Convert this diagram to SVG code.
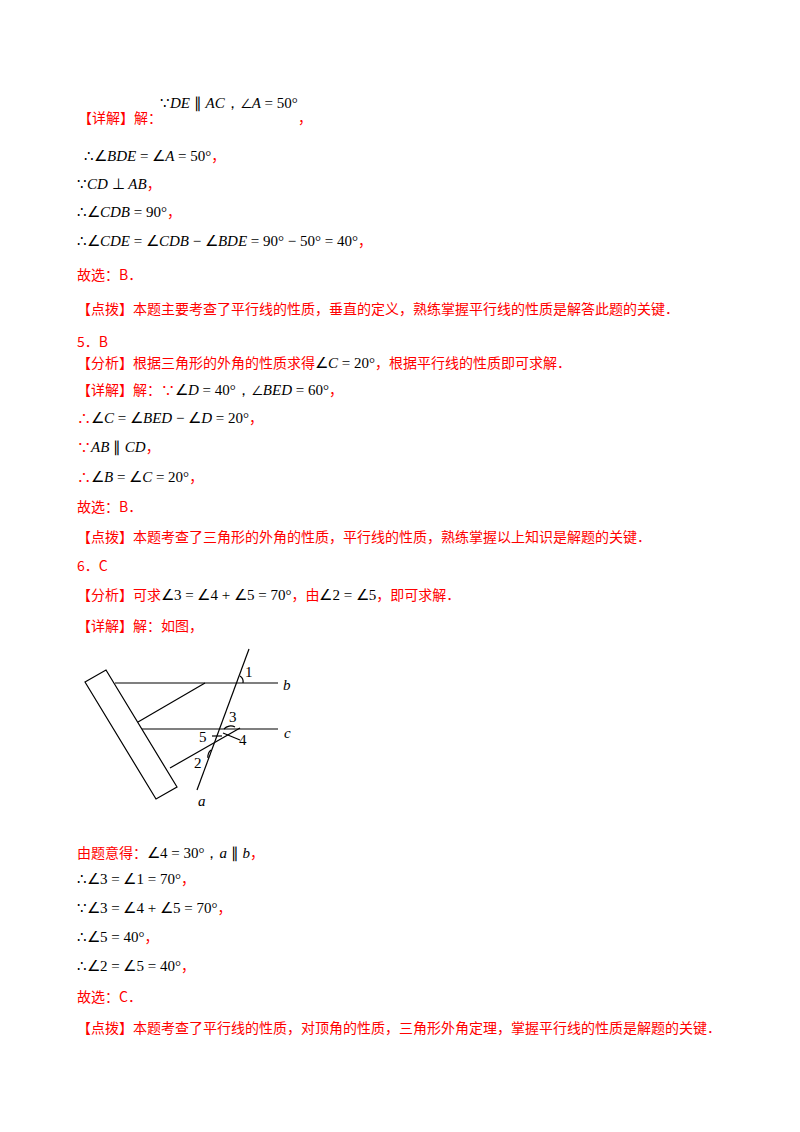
<svg xmlns="http://www.w3.org/2000/svg" width="800" height="1132" viewBox="0 0 800 1132">
<style>
.r{font-family:"Noto Sans CJK SC","Noto Sans",sans-serif;font-size:14px;fill:#ff0000}
.m{font-family:"Liberation Serif",serif;font-size:15px;fill:#000}
.i{font-style:italic}
.f{font-family:"Liberation Serif",serif;font-size:15px;fill:#000}
.ln{stroke:#000;stroke-width:1.2;fill:none}
</style>
<rect width="800" height="1132" fill="#fff"/>
<text class="m" x="160" y="108">∵<tspan class="i">DE</tspan> ∥ <tspan class="i">AC</tspan>，∠<tspan class="i">A</tspan> = 50°</text>
<text class="r" x="78" y="123">【详解】解：</text>
<text class="r" x="298" y="123">，</text>
<text class="m" x="84" y="161">∴∠<tspan class="i">BDE</tspan> = ∠<tspan class="i">A</tspan> = 50°<tspan class="r">，</tspan></text>
<text class="m" x="77" y="189">∵<tspan class="i">CD</tspan> ⊥ <tspan class="i">AB</tspan><tspan class="r">，</tspan></text>
<text class="m" x="77" y="217">∴∠<tspan class="i">CDB</tspan> = 90°<tspan class="r">，</tspan></text>
<text class="m" x="77" y="246">∴∠<tspan class="i">CDE</tspan> = ∠<tspan class="i">CDB</tspan> − ∠<tspan class="i">BDE</tspan> = 90° − 50° = 40°<tspan class="r">，</tspan></text>
<text class="r" x="77" y="280">故选：B．</text>
<text class="r" x="77" y="314">【点拨】本题主要考查了平行线的性质，垂直的定义，熟练掌握平行线的性质是解答此题的关键．</text>
<text class="r" x="77" y="347">5．B</text>
<text class="r" x="77" y="368">【分析】根据三角形的外角的性质求得<tspan class="m">∠<tspan class="i">C</tspan> = 20°</tspan>，根据平行线的性质即可求解．</text>
<text class="r" x="77" y="395">【详解】解：∵<tspan class="m">∠<tspan class="i">D</tspan> = 40°，∠<tspan class="i">BED</tspan> = 60°</tspan>，</text>
<text class="r" x="77" y="423">∴<tspan class="m">∠<tspan class="i">C</tspan> = ∠<tspan class="i">BED</tspan> − ∠<tspan class="i">D</tspan> = 20°</tspan>，</text>
<text class="r" x="77" y="452">∵<tspan class="m"><tspan class="i">AB</tspan> ∥ <tspan class="i">CD</tspan></tspan>，</text>
<text class="r" x="77" y="482">∴<tspan class="m">∠<tspan class="i">B</tspan> = ∠<tspan class="i">C</tspan> = 20°</tspan>，</text>
<text class="r" x="77" y="512">故选：B．</text>
<text class="r" x="77" y="542">【点拨】本题考查了三角形的外角的性质，平行线的性质，熟练掌握以上知识是解题的关键．</text>
<text class="r" x="77" y="571">6．C</text>
<text class="r" x="77" y="600">【分析】可求<tspan class="m">∠3 = ∠4 + ∠5 = 70°</tspan>，由<tspan class="m">∠2 = ∠5</tspan>，即可求解．</text>
<text class="r" x="77" y="631">【详解】解：如图，</text>
<g id="figure">
<polygon class="ln" points="85,682 106,670 177,787 156,799"/>
<line class="ln" x1="115" y1="683" x2="278" y2="683"/>
<line class="ln" x1="205" y1="683" x2="138" y2="722"/>
<line class="ln" x1="142" y1="729" x2="278" y2="729"/>
<line class="ln" x1="249" y1="649" x2="197" y2="790"/>
<line class="ln" x1="170" y1="768" x2="240" y2="728"/>
<line class="ln" x1="223" y1="733" x2="240" y2="740"/>
<line class="ln" x1="212" y1="736" x2="222" y2="736"/>
<path class="ln" d="M243,683 A7,7 0 0 0 240,676"/>
<path class="ln" d="M224,729 A9,9 0 0 1 235,727"/>
<path class="ln" d="M208,758 A9,9 0 0 1 211,750"/>
<text class="f" x="245" y="677">1</text>
<text class="f" x="229" y="722">3</text>
<text class="f" x="199" y="742">5</text>
<text class="f" x="239" y="745">4</text>
<text class="f" x="194" y="768">2</text>
<text class="f i" x="283" y="690">b</text>
<text class="f i" x="284" y="738">c</text>
<text class="f i" x="198" y="806">a</text>
</g>
<text class="r" x="77" y="858">由题意得：<tspan class="m">∠4 = 30°，<tspan class="i">a</tspan> ∥ <tspan class="i">b</tspan></tspan>，</text>
<text class="m" x="77" y="884">∴∠3 = ∠1 = 70°<tspan class="r">，</tspan></text>
<text class="m" x="77" y="913">∵∠3 = ∠4 + ∠5 = 70°<tspan class="r">，</tspan></text>
<text class="m" x="77" y="942">∴∠5 = 40°<tspan class="r">，</tspan></text>
<text class="m" x="77" y="971">∴∠2 = ∠5 = 40°<tspan class="r">，</tspan></text>
<text class="r" x="77" y="1002">故选：C．</text>
<text class="r" x="77" y="1033">【点拨】本题考查了平行线的性质，对顶角的性质，三角形外角定理，掌握平行线的性质是解题的关键．</text>
</svg>
